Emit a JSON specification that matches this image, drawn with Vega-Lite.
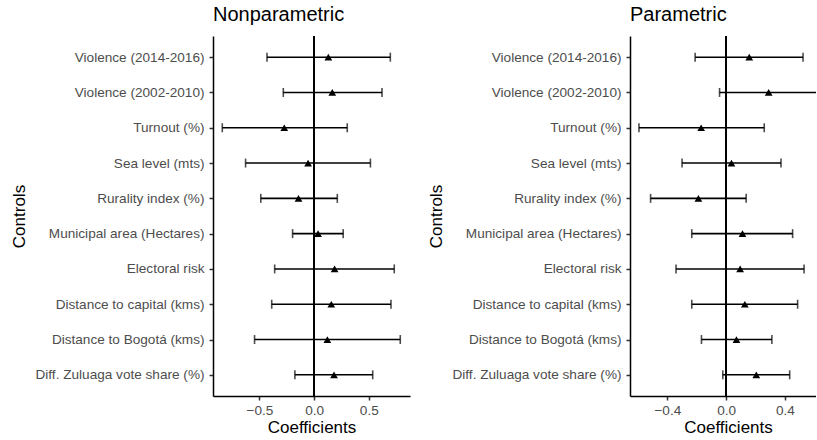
{
  "$schema": "https://vega.github.io/schema/vega-lite/v6.json",
  "padding": {"left": 10, "top": 5, "right": 0, "bottom": 0},
  "spacing": 17,
  "config": {
    "font": "Liberation Sans",
    "view": {"stroke": null},
    "axis": {
      "grid": false,
      "domainColor": "black",
      "domainWidth": 1.5,
      "tickColor": "#333333",
      "tickWidth": 1.5,
      "tickSize": 4,
      "labelColor": "#4d4d4d",
      "labelFontSize": 13.6,
      "labelFont": "Liberation Sans",
      "titleFont": "Liberation Sans",
      "titleFontSize": 17,
      "titleFontWeight": "normal",
      "titleColor": "black"
    },
    "title": {"font": "Liberation Sans", "fontSize": 20, "fontWeight": "normal", "anchor": "start", "frame": "group", "color": "black", "offset": 10}
  },
  "datasets": {
    "coefs": [
      {"model": "Nonparametric", "control": "Violence (2014-2016)", "est": 0.130, "lo": -0.431, "hi": 0.697},
      {"model": "Nonparametric", "control": "Violence (2002-2010)", "est": 0.166, "lo": -0.282, "hi": 0.621},
      {"model": "Nonparametric", "control": "Turnout (%)", "est": -0.273, "lo": -0.840, "hi": 0.303},
      {"model": "Nonparametric", "control": "Sea level (mts)", "est": -0.055, "lo": -0.627, "hi": 0.515},
      {"model": "Nonparametric", "control": "Rurality index (%)", "est": -0.143, "lo": -0.488, "hi": 0.212},
      {"model": "Nonparametric", "control": "Municipal area (Hectares)", "est": 0.036, "lo": -0.197, "hi": 0.266},
      {"model": "Nonparametric", "control": "Electoral risk", "est": 0.187, "lo": -0.361, "hi": 0.733},
      {"model": "Nonparametric", "control": "Distance to capital (kms)", "est": 0.157, "lo": -0.388, "hi": 0.703},
      {"model": "Nonparametric", "control": "Distance to Bogotá (kms)", "est": 0.121, "lo": -0.545, "hi": 0.788},
      {"model": "Nonparametric", "control": "Diff. Zuluaga vote share (%)", "est": 0.182, "lo": -0.176, "hi": 0.536},
      {"model": "Parametric", "control": "Violence (2014-2016)", "est": 0.157, "lo": -0.211, "hi": 0.523},
      {"model": "Parametric", "control": "Violence (2002-2010)", "est": 0.289, "lo": -0.045, "hi": 0.627},
      {"model": "Parametric", "control": "Turnout (%)", "est": -0.170, "lo": -0.593, "hi": 0.259},
      {"model": "Parametric", "control": "Sea level (mts)", "est": 0.036, "lo": -0.300, "hi": 0.373},
      {"model": "Parametric", "control": "Rurality index (%)", "est": -0.189, "lo": -0.514, "hi": 0.136},
      {"model": "Parametric", "control": "Municipal area (Hectares)", "est": 0.111, "lo": -0.234, "hi": 0.452},
      {"model": "Parametric", "control": "Electoral risk", "est": 0.095, "lo": -0.341, "hi": 0.530},
      {"model": "Parametric", "control": "Distance to capital (kms)", "est": 0.127, "lo": -0.234, "hi": 0.486},
      {"model": "Parametric", "control": "Distance to Bogotá (kms)", "est": 0.070, "lo": -0.168, "hi": 0.311},
      {"model": "Parametric", "control": "Diff. Zuluaga vote share (%)", "est": 0.205, "lo": -0.023, "hi": 0.432}
    ]
  },
  "hconcat": [
    {
      "title": "Nonparametric",
      "width": 197,
      "height": 360,
      "data": {"name": "coefs"},
      "transform": [{"filter": "datum.model === 'Nonparametric'"}],
      "encoding": {
        "y": {
          "field": "control", "type": "nominal", "title": "Controls",
          "sort": ["Violence (2014-2016)", "Violence (2002-2010)", "Turnout (%)", "Sea level (mts)", "Rurality index (%)", "Municipal area (Hectares)", "Electoral risk", "Distance to capital (kms)", "Distance to Bogotá (kms)", "Diff. Zuluaga vote share (%)"],
          "scale": {"type": "point", "padding": 0.6},
          "axis": {"labelPadding": 5, "titlePadding": 7}
        }
      },
      "layer": [
        {
          "mark": {"type": "rule", "color": "black", "strokeWidth": 1.6},
          "encoding": {"x": {"datum": 0, "type": "quantitative"}, "y": null}
        },
        {
          "mark": {"type": "rule", "color": "black", "strokeWidth": 1.6},
          "encoding": {
            "x": {"field": "lo", "type": "quantitative", "title": "Coefficients",
              "scale": {"domain": [-0.925, 0.877], "nice": false, "zero": false},
              "axis": {"values": [-0.5, 0, 0.5], "format": ".1f", "labelPadding": 3, "titlePadding": 3}},
            "x2": {"field": "hi"}
          }
        },
        {
          "mark": {"type": "tick", "orient": "vertical", "color": "black", "size": 9, "thickness": 1.6},
          "encoding": {"x": {"field": "lo", "type": "quantitative"}}
        },
        {
          "mark": {"type": "tick", "orient": "vertical", "color": "black", "size": 9, "thickness": 1.6},
          "encoding": {"x": {"field": "hi", "type": "quantitative"}}
        },
        {
          "mark": {"type": "point", "shape": "triangle-up", "filled": true, "color": "black", "opacity": 1, "size": 60},
          "encoding": {"x": {"field": "est", "type": "quantitative"}}
        }
      ]
    },
    {
      "title": "Parametric",
      "width": 186,
      "height": 360,
      "data": {"name": "coefs"},
      "transform": [{"filter": "datum.model === 'Parametric'"}],
      "encoding": {
        "y": {
          "field": "control", "type": "nominal", "title": "Controls",
          "sort": ["Violence (2014-2016)", "Violence (2002-2010)", "Turnout (%)", "Sea level (mts)", "Rurality index (%)", "Municipal area (Hectares)", "Electoral risk", "Distance to capital (kms)", "Distance to Bogotá (kms)", "Diff. Zuluaga vote share (%)"],
          "scale": {"type": "point", "padding": 0.6},
          "axis": {"labelPadding": 5, "titlePadding": 7}
        }
      },
      "layer": [
        {
          "mark": {"type": "rule", "color": "black", "strokeWidth": 1.6},
          "encoding": {"x": {"datum": 0, "type": "quantitative"}, "y": null}
        },
        {
          "mark": {"type": "rule", "color": "black", "strokeWidth": 1.6, "clip": true},
          "encoding": {
            "x": {"field": "lo", "type": "quantitative", "title": "Coefficients",
              "scale": {"domain": [-0.654, 0.611], "nice": false, "zero": false},
              "axis": {"values": [-0.4, 0, 0.4], "format": ".1f", "labelPadding": 3, "titlePadding": 3, "titleX": 98}},
            "x2": {"field": "hi"}
          }
        },
        {
          "mark": {"type": "tick", "orient": "vertical", "color": "black", "size": 9, "thickness": 1.6, "clip": true},
          "encoding": {"x": {"field": "lo", "type": "quantitative"}}
        },
        {
          "mark": {"type": "tick", "orient": "vertical", "color": "black", "size": 9, "thickness": 1.6, "clip": true},
          "encoding": {"x": {"field": "hi", "type": "quantitative"}}
        },
        {
          "mark": {"type": "point", "shape": "triangle-up", "filled": true, "color": "black", "opacity": 1, "size": 60, "clip": true},
          "encoding": {"x": {"field": "est", "type": "quantitative"}}
        }
      ]
    }
  ]
}
